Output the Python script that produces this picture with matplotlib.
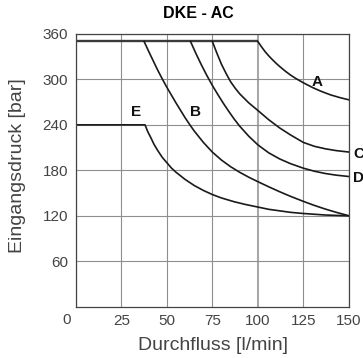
import matplotlib
matplotlib.use("Agg")
import matplotlib.pyplot as plt

plt.rcParams['font.family'] = ['Liberation Sans', 'DejaVu Sans']

title = "DKE - AC"
xlabel = "Durchfluss [l/min]"
ylabel = "Eingangsdruck [bar]"
xticks = [0, 25, 50, 75, 100, 125, 150]
yticks = [60, 120, 180, 240, 300, 360]

# pressure limit line
limit_x = [0, 100]
limit_y = [350, 350]

curve_A_x = [100, 102, 104, 106, 108, 110, 112, 115, 118, 121, 125, 130, 135, 140, 145, 150]
curve_A_y = [350, 343, 336.5, 331, 326, 321.3, 317, 311, 305.6, 301, 295.5, 289.3, 284, 279.5, 276, 273]

curve_C_x = [75, 77.5, 80, 82.5, 85, 87.5, 90, 95, 100, 106, 112, 118, 125, 131, 137, 143, 150]
curve_C_y = [350, 334.5, 320, 308, 297, 288.5, 281, 269, 259, 246.7, 235.9, 226.6, 216.8, 211.7, 208.4, 206, 204.1]

curve_D_x = [63, 66, 69, 72, 75, 78, 81, 84, 87, 90, 95, 100, 106, 112, 118, 125, 131, 137, 143, 150]
curve_D_y = [350, 334, 319, 305, 292, 280, 268.6, 257.8, 247.6, 238.3, 225, 213.6, 203, 195, 188.7, 182.8, 178.8,
             175.8, 173.6, 171.8]

curve_B_x = [37.5, 40, 42.5, 45, 47.5, 50, 55, 60, 62.5, 65, 70, 75, 80, 85, 90, 95, 100,
             106, 112, 118, 125, 131, 137, 143, 150]
curve_B_y = [350, 337, 324.5, 312, 300.5, 289.5, 269, 249.5, 240.5, 232, 217, 204, 193.5, 184.8, 177.4, 170.9, 165,
             158.2, 151.7, 145.6, 139, 133.7, 128.9, 124.6, 120]

curve_E_x = [0, 38, 38.5, 39.5, 41, 43, 45, 47.5, 50, 52.5, 55, 60, 65, 70, 75, 80, 87, 93, 100,
             106, 112, 118, 125, 131, 137, 143, 150]
curve_E_y = [240, 240, 237, 231, 224, 214, 206, 197, 190, 183, 177.5, 168, 160, 153.5, 148, 143.5, 138.5, 135, 131.5,
             128.5, 126.5, 124.5, 123, 122, 121, 120.5, 120]

labels = ["A", "B", "C", "D", "E"]
label_x = [132.5, 65.5, 155.5, 155.5, 33]
label_y = [297, 257, 201, 170, 257]

fig = plt.figure(figsize=(3.63, 3.58), dpi=100)
ax = fig.add_axes([0.209, 0.1433, 0.752, 0.762])

ax.set_xlim(0, 150)
ax.set_ylim(0, 360)
ax.set_xticks(xticks)
ax.set_xticklabels([""] + [str(v) for v in xticks[1:]])
ax.set_yticks(yticks)
ax.set_yticklabels([str(v) for v in yticks])
ax.tick_params(length=0, labelsize=11, colors='#444444')
ax.tick_params(axis='x', pad=5)
ax.tick_params(axis='y', pad=5.5)

ax.grid(True, color='#8f8f8f', linewidth=0.8)
ax.set_axisbelow(True)
for gl, v in zip(ax.get_xgridlines(), xticks):
    if v == 100:
        gl.set_linewidth(1.5)
        gl.set_color('#a8a8a8')
for s in ax.spines.values():
    s.set_color('#444444')
    s.set_linewidth(0.9)

ax.plot(limit_x, limit_y, color='#3a3a3a', linewidth=1.7, solid_capstyle='butt')
for xs, ys in [(curve_A_x, curve_A_y), (curve_C_x, curve_C_y), (curve_D_x, curve_D_y),
               (curve_B_x, curve_B_y), (curve_E_x, curve_E_y)]:
    ax.plot(xs, ys, color='#1a1a1a', linewidth=1.2, solid_joinstyle='round')

for lab, lx, ly in zip(labels, label_x, label_y):
    ax.text(lx, ly, lab, fontsize=11, fontweight='bold', ha='center', va='center',
            color='#111111', clip_on=False)

fig.text(66.7 / 363, 1 - 320 / 358, "0", fontsize=11, color='#444444', ha='center', va='center')

fig.text(212.5 / 363, 1 - 350 / 358, xlabel, fontsize=14, color='#444444', ha='center', va='baseline')
fig.text(18 / 363, 1 - 166 / 358, ylabel, fontsize=14, color='#444444', ha='center', va='center',
         rotation=90)
fig.text(198 / 363, 1 - 14 / 358, title, fontsize=11.5, fontweight='bold', ha='center', va='center')

fig.savefig("out.png", dpi=100)
